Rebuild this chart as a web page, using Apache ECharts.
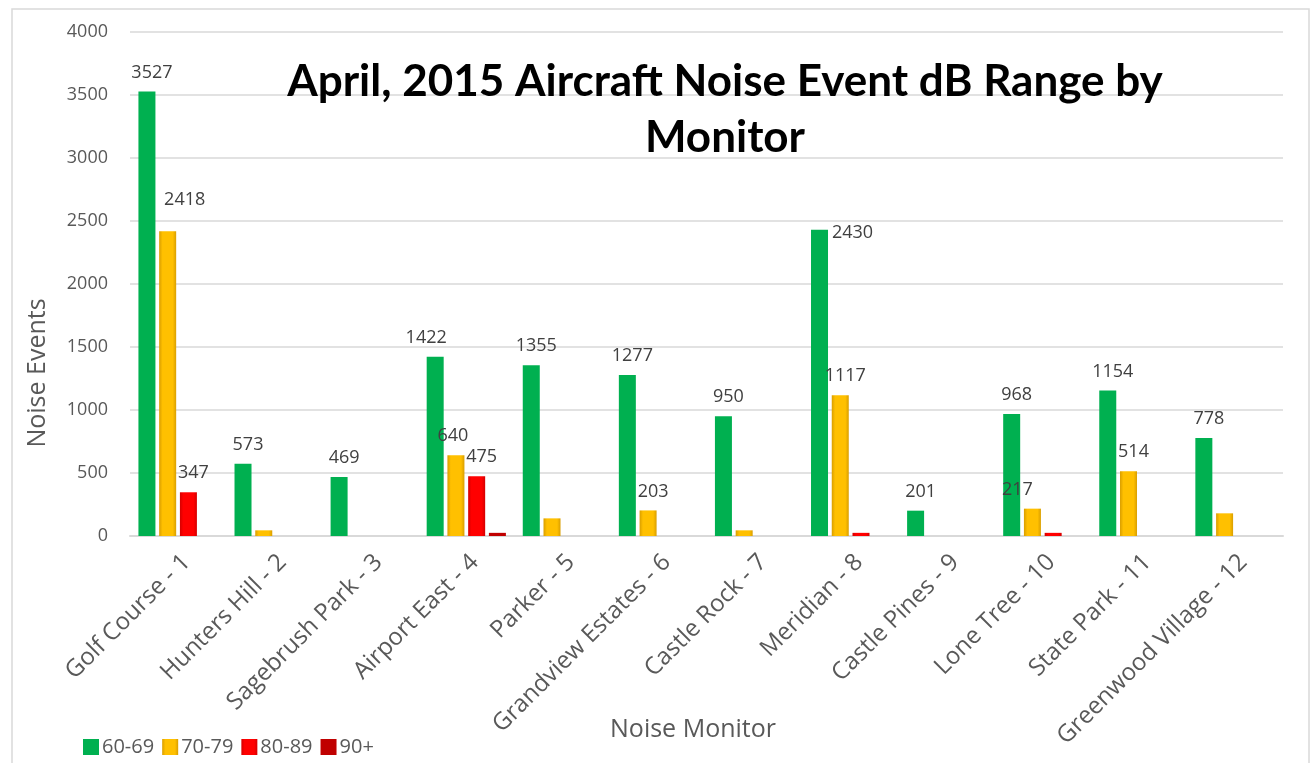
<!DOCTYPE html>
<html>
<head>
<meta charset="utf-8">
<script src="https://cdn.jsdelivr.net/npm/echarts@6/dist/echarts.min.js"></script>
<style>
html,body{margin:0;padding:0;background:#fff;}
#chart{width:1312px;height:763px;}
</style>
</head>
<body>
<div id="chart"></div>
<script>
const categories = ['Golf Course - 1','Hunters Hill - 2','Sagebrush Park - 3','Airport East - 4','Parker - 5','Grandview Estates - 6','Castle Rock - 7','Meridian - 8','Castle Pines - 9','Lone Tree - 10','State Park - 11','Greenwood Village - 12'];
const seriesNames = ['60-69','70-79','80-89','90+'];
const s6069 = [3527, 573, 469, 1422, 1355, 1277, 950, 2430, 201, 968, 1154, 778];
const s7079 = [2418, 45, 0, 640, 140, 203, 45, 1117, 0, 217, 514, 180];
const s8089 = [347, 0, 0, 475, 0, 0, 0, 25, 0, 25, 0, 0];
const s90 = [0, 0, 0, 25, 0, 0, 0, 0, 0, 0, 0, 0];
const yTicks = [0, 500, 1000, 1500, 2000, 2500, 3000, 3500, 4000];

const font = '"Open Sans", "Liberation Sans", sans-serif';
const labelColor = '#404040';

// manual label nudges (as in the original chart), keyed "seriesIndex:categoryIndex"
const labelNudge = { '1:0': [12, -12], '0:7': [28, 22], '0:3': [-14, 0], '1:9': [-20, 0], '1:3': [-8, 0] };

const styles = [
  { color: '#00B050' },
  { color: { type: 'linear', x: 0, y: 0, x2: 1, y2: 0, colorStops: [
      { offset: 0, color: '#D99E00' }, { offset: 0.2, color: '#FFC000' },
      { offset: 0.8, color: '#FFC000' }, { offset: 1, color: '#D99E00' }] } },
  { color: { type: 'linear', x: 0, y: 0, x2: 1, y2: 0, colorStops: [
      { offset: 0, color: '#D40000' }, { offset: 0.2, color: '#FF0000' },
      { offset: 0.8, color: '#FF0000' }, { offset: 1, color: '#D40000' }] } },
  { color: '#C00000' }
];
const dataSets = [s6069, s7079, s8089, s90];

const series = dataSets.map((d, i) => ({
  name: seriesNames[i],
  type: 'bar',
  data: d.map((v, j) => {
    const n = labelNudge[i + ':' + j];
    return n ? { value: v, label: { offset: [5 + n[0], n[1]] } } : v;
  }),
  barWidth: 17,
  barGap: '22%',
  itemStyle: Object.assign({}, styles[i]),
  label: {
    show: true,
    position: 'top',
    distance: 10,
    offset: [5, 0],
    color: labelColor,
    fontFamily: font,
    fontSize: 18,
    formatter: p => (p.value >= 200 ? String(p.value) : '')
  }
}));

const chart = echarts.init(document.getElementById('chart'), null, { renderer: 'canvas' });
chart.setOption({
  animation: false,
  backgroundColor: '#fff',
  title: {
    text: 'April, 2015 Aircraft Noise Event dB Range by\nMonitor',
    left: 720, top: 49, textAlign: 'center',
    textStyle: { fontFamily: 'Lato, "Open Sans", sans-serif', fontWeight: 'bold', fontSize: 44, lineHeight: 56, color: '#000' }
  },
  legend: {
    left: 78, top: 732,
    itemWidth: 16, itemHeight: 16, itemGap: 8,
    textStyle: { fontFamily: font, fontSize: 20, color: '#595959', padding: [0, 0, 0, -2] },
    data: seriesNames.map(n => ({ name: n, icon: 'rect' }))
  },
  grid: { left: 130, right: 29, top: 32, bottom: 227, containLabel: false },
  xAxis: {
    type: 'category',
    data: categories,
    axisLine: { lineStyle: { color: '#D9D9D9', width: 2 } },
    axisTick: { show: false },
    axisLabel: { rotate: 45, interval: 0, margin: 14, color: '#595959', fontFamily: font, fontSize: 24, verticalAlign: 'top' }
  },
  yAxis: {
    type: 'value',
    min: 0, max: 4000, interval: 500,
    axisLine: { show: false },
    axisTick: { show: false },
    splitLine: { lineStyle: { color: '#D9D9D9', width: 1.5 } },
    axisLabel: { margin: 22, color: '#595959', fontFamily: font, fontSize: 18,
      formatter: v => (yTicks.indexOf(v) >= 0 ? String(v) : '') }
  },
  graphic: [
    { type: 'rect', shape: { x: 12, y: 9, width: 1297, height: 770 }, style: { fill: 'none', stroke: '#D9D9D9', lineWidth: 1.5 }, z: -1 },
    { type: 'text', x: 38, y: 373, rotation: Math.PI / 2, style: { text: 'Noise Events', fontFamily: font, fontSize: 25, fill: '#595959', textAlign: 'center', textVerticalAlign: 'middle' } },
    { type: 'text', x: 693, y: 730, style: { text: 'Noise Monitor', fontFamily: font, fontSize: 25, fill: '#595959', textAlign: 'center', textVerticalAlign: 'middle' } }
  ],
  series: series
});
</script>
</body>
</html>
